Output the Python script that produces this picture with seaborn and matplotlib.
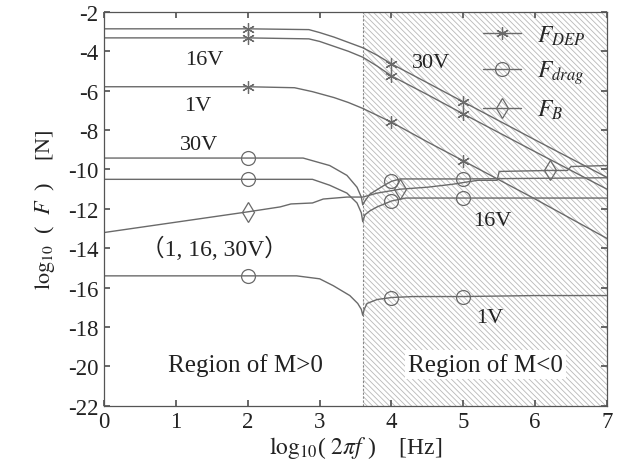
import numpy as np
import matplotlib
matplotlib.use('Agg')
import matplotlib.pyplot as plt
import seaborn as sns

# F_DEP curves (30V, 16V, 1V)
dep_x = [0, 2, 2.85, 3.0, 3.2, 3.4, 3.6, 3.8, 4.0, 4.5, 5.0, 6.0, 7.0]
dep30_y = [-2.86, -2.86, -2.90, -3.05, -3.28, -3.55, -3.82, -4.2, -4.64, -5.6, -6.57, -8.5, -10.4]
dep16_y = [-3.32, -3.32, -3.37, -3.5, -3.75, -4.0, -4.3, -4.75, -5.25, -6.2, -7.18, -9.1, -11.0]
dep1_x = [0, 2, 2.65, 2.9, 3.2, 3.4, 3.6, 3.8, 4.0, 4.5, 5.0, 6.0, 7.0]
dep1_y = [-5.8, -5.8, -5.85, -6.05, -6.35, -6.6, -6.9, -7.25, -7.6, -8.6, -9.56, -11.5, -13.5]

# F_drag curves
drag30_x = [0, 2, 2.77, 3.14, 3.38, 3.52, 3.58, 3.6, 3.63, 3.7, 3.9, 4.0, 4.12, 5.0, 6.0, 7.0]
drag30_y = [-9.42, -9.42, -9.42, -9.8, -10.3, -10.9, -11.4, -11.8, -11.6, -11.25, -10.8, -10.6, -10.48, -10.48, -10.45, -10.42]
drag16_x = [0, 2, 2.9, 3.14, 3.38, 3.52, 3.58, 3.6, 3.63, 3.7, 3.8, 4.0, 4.2, 5.0, 6.0, 7.0]
drag16_y = [-10.5, -10.5, -10.5, -10.8, -11.2, -11.7, -12.2, -12.65, -12.3, -12.1, -11.9, -11.6, -11.45, -11.45, -11.45, -11.45]
drag1_x = [0, 2, 2.68, 3.0, 3.19, 3.42, 3.53, 3.58, 3.6, 3.62, 3.66, 3.8, 4.0, 4.3, 5.0, 6.0, 7.0]
drag1_y = [-15.4, -15.4, -15.4, -15.55, -15.9, -16.4, -16.8, -17.1, -17.4, -17.1, -16.8, -16.6, -16.5, -16.45, -16.45, -16.4, -16.4]

# F_B curve (same for 1, 16, 30V)
fb_x = [0, 2, 2.45, 2.6, 2.9, 3.05, 3.38, 3.6, 3.8, 4.12, 4.5, 4.85, 5.2, 5.47, 5.5, 6.2, 6.45, 6.5, 7.0]
fb_y = [-13.2, -12.15, -11.9, -11.75, -11.7, -11.5, -11.4, -11.4, -11.2, -11.0, -10.9, -10.75, -10.55, -10.55, -10.1, -10.05, -10.05, -9.85, -9.8]

dep_marks = [2, 4, 5]
drag_marks = [2, 4, 5]
fb_marks = [2, 4.12, 6.2]

sns.set_theme(style='ticks')
plt.rcParams['font.family'] = ['Liberation Serif', 'Noto Sans CJK SC', 'DejaVu Sans']
plt.rcParams['mathtext.fontset'] = 'stix'
plt.rcParams['axes.unicode_minus'] = False
plt.rcParams['hatch.linewidth'] = 0.6

fig = plt.figure(figsize=(6.2, 4.77), dpi=100)
ax = fig.add_axes([0.168, 0.147, 0.811, 0.826])

line_c = '#6a6a6a'

# hatched region M<0
ax.axvspan(3.6, 7, facecolor='none', edgecolor='#b8b8b8', hatch='\\\\\\\\\\\\', lw=0, zorder=0)
ax.axvline(3.6, color='#888888', lw=0.8, ls=(0, (2, 1.5)), zorder=1)

def curve(xs, ys, marks, marker, ms, label=None):
    idx = list(np.where(np.isin(xs, marks))[0])
    sns.lineplot(x=xs, y=ys, ax=ax, color=line_c, lw=1.0, sort=False,
                 marker=marker, markevery=idx, ms=ms, mfc='none', mec=line_c,
                 mew=0.9, label=label, legend=False)

star = (6, 2, 0)
curve(dep_x, dep30_y, dep_marks, star, 9, r'$F_{DEP}$')
curve(dep_x, dep16_y, dep_marks, star, 9)
curve(dep1_x, dep1_y, dep_marks, star, 9)
curve(drag30_x, drag30_y, drag_marks, 'o', 10, r'$F_{drag}$')
curve(drag16_x, drag16_y, drag_marks, 'o', 10)
curve(drag1_x, drag1_y, drag_marks, 'o', 10)
curve(fb_x, fb_y, fb_marks, 'd', 10, r'$F_B$')

ax.set_xlim(0, 7)
ax.set_ylim(-22, -2)
ax.set_xticks(range(0, 8))
ax.set_yticks(range(-22, -1, 2))
ax.tick_params(direction='in', top=True, right=True, labelsize=16.5, length=4,
               color='#555555', labelcolor='#222222', pad=4)
for s in ax.spines.values():
    s.set_color('#555555')
    s.set_linewidth(0.9)

ax.set_xlabel(r'$\mathrm{log}_{10}$( $2\pi f$ )    [Hz]', fontsize=17, labelpad=1, color='#222222')
ax.set_ylabel(r'$\mathrm{log}_{10}$  (  $F$  )    [N]', fontsize=16, labelpad=8, color='#222222')

leg = ax.legend(loc='upper right', frameon=False, fontsize=17, handlelength=1.6,
                bbox_to_anchor=(1.0, 1.025), labelspacing=0.5, handletextpad=0.7)

tk = dict(fontsize=16, color='#222222', ha='center', va='center')
ax.text(1.39, -4.44, '16V', **tk)
ax.text(1.30, -6.77, '1V', **tk)
ax.text(1.32, -8.75, '30V', **tk)
ax.text(1.53, -14.0, '（1, 16, 30V）', fontsize=17, color='#222222', ha='center', va='center')
ax.text(4.55, -4.55, '30V', **tk)
ax.text(5.4, -12.6, '16V', **tk)
ax.text(5.37, -17.5, '1V', **tk)
ax.text(1.96, -19.9, 'Region of M>0', fontsize=18, color='#222222', ha='center', va='center')
ax.text(5.31, -19.9, 'Region of M<0', fontsize=18, color='#222222', ha='center', va='center',
        bbox=dict(facecolor='white', edgecolor='none', pad=2))

fig.savefig('out.png', dpi=100)
